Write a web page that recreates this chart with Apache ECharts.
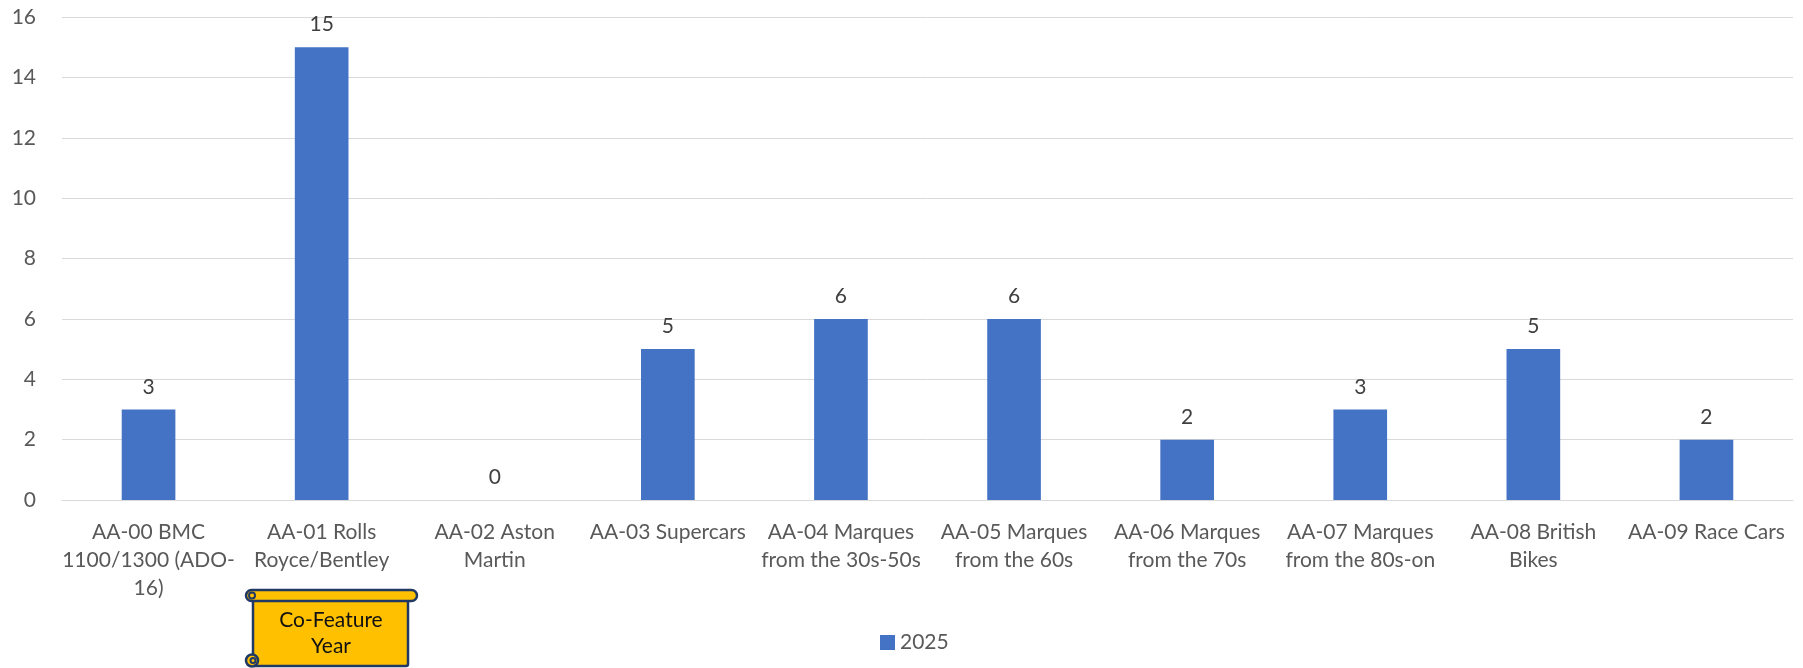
<!DOCTYPE html>
<html>
<head>
<meta charset="utf-8">
<script src="https://cdn.jsdelivr.net/npm/echarts@6/dist/echarts.min.js"></script>
<style>html,body{margin:0;padding:0;background:#fff}#c{width:1803px;height:668px}</style>
</head>
<body>
<div id="c"></div>
<script>
const categories = [
  "AA-00 BMC\n1100/1300 (ADO-\n16)",
  "AA-01 Rolls\nRoyce/Bentley",
  "AA-02 Aston\nMartin",
  "AA-03 Supercars",
  "AA-04 Marques\nfrom the 30s-50s",
  "AA-05 Marques\nfrom the 60s",
  "AA-06 Marques\nfrom the 70s",
  "AA-07 Marques\nfrom the 80s-on",
  "AA-08 British\nBikes",
  "AA-09 Race Cars"
];
const seriesName = "2025";
const values2025 = [3, 15, 0, 5, 6, 6, 2, 3, 5, 2];
const yTicks = { min: 0, max: 16, interval: 2 };
const noteText = "Co-Feature\nYear";

const FONT = "Lato";
const FS = 21;
const chart = echarts.init(document.getElementById('c'), null, { renderer: 'canvas' });
const navy = '#1F3864', gold = '#FFC000';
chart.setOption({
  animation: false,
  textStyle: { fontFamily: FONT },
  grid: { left: 62, right: 10, top: 17, bottom: 168, containLabel: false },
  legend: {
    left: 875, top: 627,
    itemWidth: 15, itemHeight: 15, itemGap: 8,
    icon: 'rect',
    textStyle: { fontFamily: FONT, fontSize: FS, color: '#595959' },
    data: [seriesName]
  },
  xAxis: {
    type: 'category',
    data: categories,
    axisLine: { lineStyle: { color: '#D9D9D9', width: 1 } },
    axisTick: { show: false },
    axisLabel: { interval: 0, margin: 18, fontFamily: FONT, fontSize: FS, lineHeight: 28, color: '#595959' }
  },
  yAxis: {
    type: 'value',
    min: yTicks.min, max: yTicks.max, interval: yTicks.interval,
    axisLine: { show: false },
    axisTick: { show: false },
    splitLine: { lineStyle: { color: '#D9D9D9', width: 1 } },
    axisLabel: { margin: 26, fontFamily: FONT, fontSize: FS, color: '#595959' }
  },
  series: [{
    name: seriesName,
    type: 'bar',
    data: values2025,
    barWidth: '31%',
    itemStyle: { color: '#4472C4' },
    label: { show: true, position: 'top', distance: 12, fontFamily: FONT, fontSize: FS, color: '#404040' }
  }],
  graphic: [
    { type: 'rect', z: 100, shape: { x: 253, y: 597, width: 155, height: 69, r: 2 },
      style: { fill: gold, stroke: navy, lineWidth: 2.5 } },
    { type: 'rect', z: 101, shape: { x: 246, y: 590, width: 171, height: 11, r: 5.5 },
      style: { fill: gold, stroke: navy, lineWidth: 2.5 } },
    { type: 'circle', z: 102, shape: { cx: 252, cy: 595.5, r: 3 },
      style: { fill: gold, stroke: navy, lineWidth: 2 } },
    { type: 'circle', z: 102, shape: { cx: 252, cy: 660.5, r: 6 },
      style: { fill: gold, stroke: navy, lineWidth: 2.5 } },
    { type: 'circle', z: 103, shape: { cx: 253, cy: 660.5, r: 2.5 },
      style: { fill: gold, stroke: navy, lineWidth: 2 } },
    { type: 'text', z: 104, x: 331, y: 620,
      style: { text: 'Co-Feature', fontFamily: FONT, fontSize: FS, fill: '#111',
               align: 'center', verticalAlign: 'middle' } },
    { type: 'text', z: 104, x: 331, y: 646,
      style: { text: 'Year', fontFamily: FONT, fontSize: FS, fill: '#111',
               align: 'center', verticalAlign: 'middle' } }
  ]
});
</script>
</body>
</html>
